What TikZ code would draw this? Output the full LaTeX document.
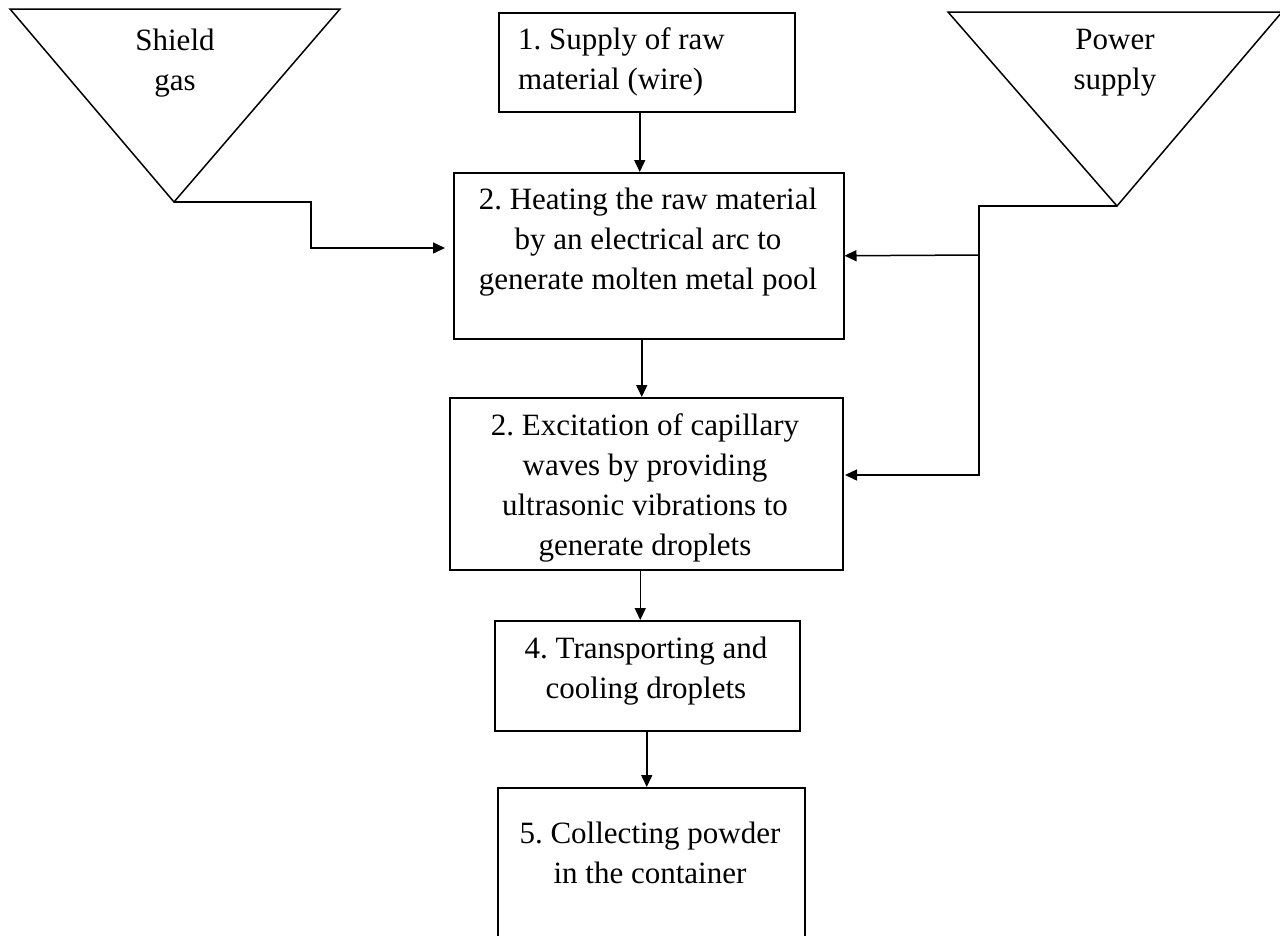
\documentclass[tikz,border=0pt]{standalone}
\usepackage{fontspec}
\setmainfont{Liberation Serif}
\usetikzlibrary{arrows.meta}
\frenchspacing
\tikzset{
  box/.style={draw, line width=1.5pt, rectangle, inner sep=0pt},
  txt/.style={align=center, inner sep=0pt, font=\fontsize{31}{40}\selectfont},
  arr/.style={line width=1.5pt, -{Triangle[length=12pt,width=11pt]}},
  ln/.style={line width=1.5pt},
}
\begin{document}
\begin{tikzpicture}[x=1pt,y=-1pt]
\path[use as bounding box, clip] (0,0) rectangle (1280,935);
\fill[white] (0,0) rectangle (1280,935);
% triangles
\draw[ln] (10,9) -- (340,9) -- (174,202) -- cycle;
\coordinate (sg) at (174,202);
\node[txt] (sgt) at (175,63) {Shield\\gas};
\draw[ln] (948,12) -- (1282,12) -- (1117,206) -- cycle;
\coordinate (ps) at (1117,206);
\node[txt] (pst) at (1115,63) {Power\\supply};
% boxes
\node[box, anchor=north west, minimum width=296pt, minimum height=99pt] (b1) at (498,12) {};
\node[txt, align=left, anchor=west] (b1t) at (518,62) {1. Supply of raw\\material (wire)};
\node[box, anchor=north west, minimum width=390pt, minimum height=166pt] (b2) at (453,172) {};
\node[txt] (b2t) at (648,242) {2. Heating the raw material\\by an electrical arc to\\generate molten metal pool};
\node[box, anchor=north west, minimum width=393pt, minimum height=172pt] (b3) at (449,397) {};
\node[txt] (b3t) at (645,488) {2. Excitation of capillary\\waves by providing\\ultrasonic vibrations to\\generate droplets};
\node[box, anchor=north west, minimum width=305pt, minimum height=110pt] (b4) at (494,620) {};
\node[txt] (b4t) at (646,671) {4. Transporting and\\cooling droplets};
\node[box, anchor=north west, minimum width=307pt, minimum height=200pt] (b5) at (497,787) {};
\node[txt] (b5t) at (650,853) {5. Collecting powder\\in the container};
% vertical arrows
\draw[arr] ([xshift=-7pt]b1.south) -- ([xshift=-7pt]b1.south |- b2.north);
\draw[arr] ([xshift=-7pt]b2.south) -- ([xshift=-7pt]b2.south |- b3.north);
\draw[arr] ([xshift=-6pt]b3.south) -- ([xshift=-6pt]b3.south |- b4.north);
\draw[arr] ([xshift=-0.5pt]b4.south) -- ([xshift=-0.5pt]b4.south |- b5.north);
% side connectors
\coordinate (sgIn) at (445,248);
\draw[arr] (sg) -| (311,248) -- (sgIn);
\coordinate (psj) at (979,255);
\coordinate (psIn3) at (845,475);
\draw[arr] (ps) -| (979,475) -- (psIn3);
\draw[arr] (psj) -- (b2.east);
\end{tikzpicture}
\end{document}
